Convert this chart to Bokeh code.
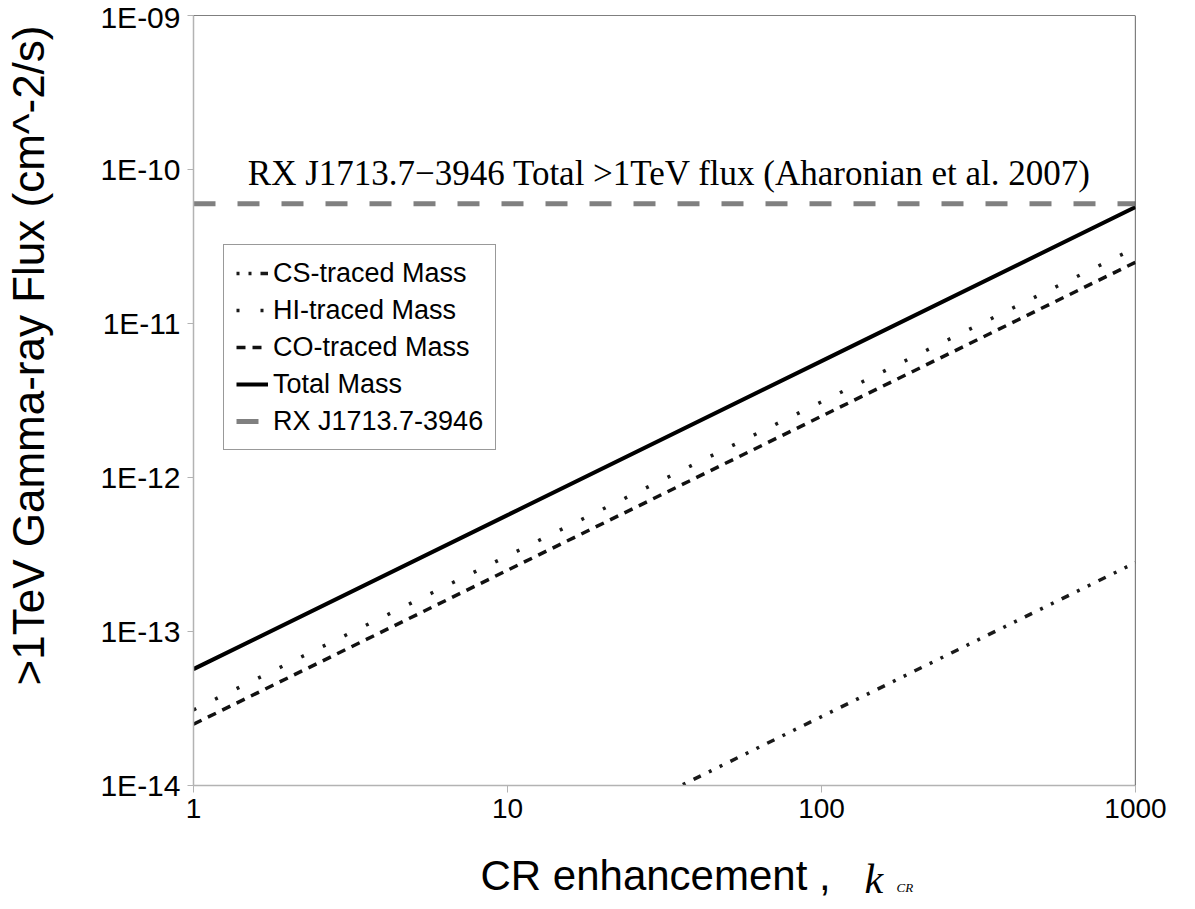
import math
from bokeh.plotting import figure
from bokeh.layouts import row, column
from bokeh.models import (Range1d, FixedTicker, CustomJSTickFormatter, Label,
                          Legend, LegendItem, Span)
from bokeh.core.properties import value
from bokeh.embed import file_html
from bokeh.resources import INLINE

# ---------------- data ----------------
k_cr = [1, 10, 100, 1000]
cs_flux = [2.8e-16, 2.8e-15, 2.8e-14, 2.8e-13]
hi_flux = [3.1e-14, 3.1e-13, 3.1e-12, 3.1e-11]
co_flux = [2.5e-14, 2.5e-13, 2.5e-12, 2.5e-11]
total_flux = [5.7e-14, 5.7e-13, 5.7e-12, 5.7e-11]
rx_flux = [6.0e-11, 6.0e-11, 6.0e-11, 6.0e-11]

x_ticks = [1, 10, 100, 1000]
x_tick_labels = ["1", "10", "100", "1000"]
y_ticks = [1e-14, 1e-13, 1e-12, 1e-11, 1e-10, 1e-9]
y_tick_labels = ["1E-14", "1E-13", "1E-12", "1E-11", "1E-10", "1E-09"]

series_names = ["CS-traced Mass", "HI-traced Mass", "CO-traced Mass",
                "Total Mass", "RX J1713.7-3946"]

y_title = ">1TeV Gamma-ray Flux (cm^-2/s)"
x_title = "CR enhancement ,"
x_title_var = "k"
x_title_sub = "CR"
note_text = "RX J1713.7\u22123946 Total >1TeV flux (Aharonian et al. 2007)"

x_min, x_max = 1, 1000
y_min, y_max = 1e-14, 1e-9

SANS = "Liberation Sans"
SERIF = "Liberation Serif"

# ---------------- sizes ----------------
TOTAL_W, TOTAL_H = 1190, 905
YT_W = 80            # strip holding the y title
MAIN_H = 840         # main figure height
XT_H = TOTAL_H - MAIN_H
MAIN_W = TOTAL_W - YT_W
FRAME_W = MAIN_W - 113 - 55   # x-title strip frame is aligned with main frame


def text_strip(w, h, xr):
    f = figure(width=w, height=h, x_range=Range1d(0, xr), y_range=Range1d(0, h),
               x_axis_location=None, y_axis_location=None,
               output_backend="svg", toolbar_location=None, min_border=0)
    f.grid.visible = False
    f.outline_line_color = None
    return f


# ---------------- main plot ----------------
p = figure(width=MAIN_W, height=MAIN_H, x_axis_type="log", y_axis_type="log",
           x_range=Range1d(x_min, x_max), y_range=Range1d(y_min, y_max),
           output_backend="svg", toolbar_location=None,
           min_border_left=113, min_border_right=55,
           min_border_top=15, min_border_bottom=55)
p.outline_line_color = None
p.background_fill_color = "white"
p.xgrid.visible = False
p.ygrid.visible = False

fmt_code = """
const i = tvals.findIndex(t => Math.abs(Math.log10(t) - Math.log10(tick)) < 1e-6);
return i >= 0 ? tlabels[i] : '';
"""

xa = p.xaxis[0]
xa.ticker = FixedTicker(ticks=x_ticks, minor_ticks=[])
xa.formatter = CustomJSTickFormatter(args=dict(tvals=x_ticks, tlabels=x_tick_labels), code=fmt_code)
xa.major_label_text_font = SANS
xa.major_label_text_font_size = "28px"
xa.major_label_text_color = "black"
xa.axis_line_color = "#b3b3b3"
xa.axis_line_width = 1.5
xa.major_tick_line_color = "#b3b3b3"
xa.major_tick_out = 7
xa.major_tick_in = 0
xa.minor_tick_line_color = None
xa.major_label_standoff = 6

ya = p.yaxis[0]
ya.ticker = FixedTicker(ticks=y_ticks, minor_ticks=[])
ya.formatter = CustomJSTickFormatter(args=dict(tvals=y_ticks, tlabels=y_tick_labels), code=fmt_code)
ya.major_label_text_font = SANS
ya.major_label_text_font_size = "30px"
ya.major_label_text_color = "black"
ya.axis_line_color = "#b3b3b3"
ya.axis_line_width = 1.5
ya.major_tick_line_color = "#b3b3b3"
ya.major_tick_out = 6
ya.major_tick_in = 0
ya.minor_tick_line_color = None
ya.major_label_standoff = 7

# right and top frame borders
p.add_layout(Span(location=x_max, dimension="height", line_color="black", line_width=1.2))
p.add_layout(Span(location=y_max, dimension="width", line_color="black", line_width=1.2))

r_cs = p.line(k_cr, cs_flux, line_color="#1a1a1a", line_width=3.5, line_dash="3 9 3 9 8 9")
r_hi = p.line(k_cr, hi_flux, line_color="#1a1a1a", line_width=3.5, line_dash="3 21")
r_co = p.line(k_cr, co_flux, line_color="#111111", line_width=3.5, line_dash="9 7")
r_tot = p.line(k_cr, total_flux, line_color="black", line_width=4)
r_rx = p.line(k_cr, rx_flux, line_color="#808080", line_width=5, line_dash="22 22")

legend = Legend(items=[LegendItem(label=n, renderers=[r]) for n, r in
                       zip(series_names, [r_cs, r_hi, r_co, r_tot, r_rx])],
                location=(30, 335))
legend.label_text_font = SANS
legend.label_text_font_size = "27px"
legend.label_text_color = "black"
legend.label_standoff = 5
legend.glyph_width = 32
legend.glyph_height = 32
legend.label_height = 32
legend.spacing = 5
legend.padding = 12
legend.margin = 0
legend.border_line_color = "#333333"
legend.border_line_width = 1.2
legend.background_fill_color = "white"
legend.background_fill_alpha = 1
p.add_layout(legend)

p.add_layout(Label(x=476, y=612, x_units="screen", y_units="screen",
                   text=note_text, text_font=SERIF, text_font_size="35px",
                   text_color="black", text_align="center",
                   text_baseline="alphabetic"))

# ---------------- y title strip ----------------
py = text_strip(YT_W, TOTAL_H, YT_W)
py.text(x=[28], y=[TOTAL_H - 355], text=[y_title], angle=math.pi / 2,
        text_font=value(SANS), text_font_size="44px", text_color="black",
        text_align="center", text_baseline="middle")

# ---------------- x title strip ----------------
px = text_strip(MAIN_W, XT_H, FRAME_W)
px.text(x=[287], y=[30], text=[x_title], text_font=value(SANS),
        text_font_size="42px", text_color="black",
        text_align="left", text_baseline="alphabetic")
px.text(x=[671], y=[27], text=[x_title_var], text_font=value(SERIF),
        text_font_style="italic", text_font_size="42px", text_color="black",
        text_align="left", text_baseline="alphabetic")
px.text(x=[703], y=[18], text=[x_title_sub], text_font=value(SERIF),
        text_font_style="italic", text_font_size="13px", text_color="black",
        text_align="left", text_baseline="alphabetic")

layout = row(py, column(p, px, spacing=0), spacing=0)

open("out.html", "w").write(file_html(layout, INLINE))
